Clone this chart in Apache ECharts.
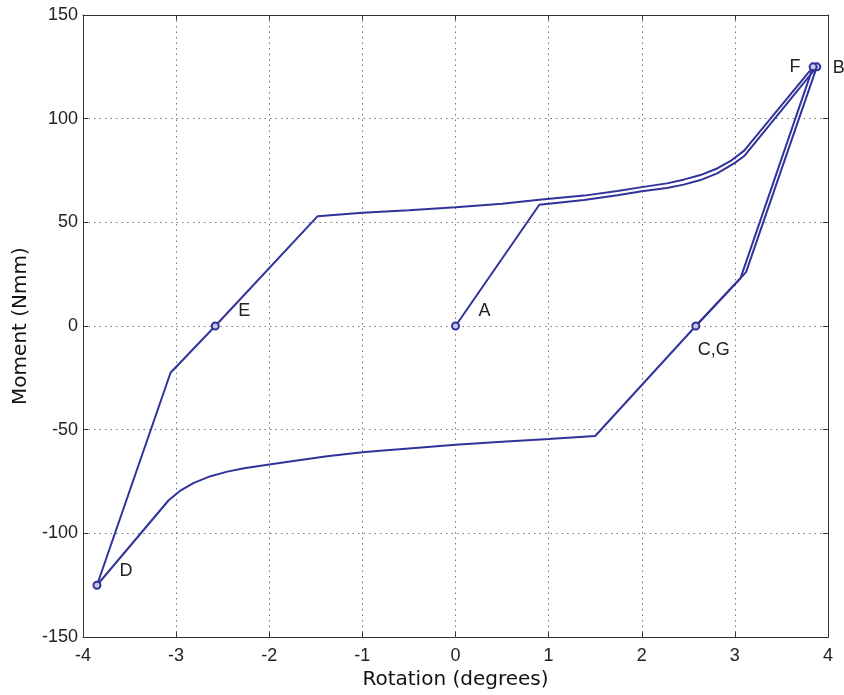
<!DOCTYPE html>
<html>
<head>
<meta charset="utf-8">
<script src="https://cdn.jsdelivr.net/npm/echarts@6/dist/echarts.min.js"></script>
<style>html,body{margin:0;padding:0;background:#fff;overflow:hidden;}#c{width:844px;height:695px;}</style>
</head>
<body>
<div id="c"></div>
<script>
// Loading path A -> B
var loadX = [0, 0.9, 1.38, 1.74, 2.0, 2.27, 2.45, 2.63, 2.81, 3.0, 3.1, 3.88];
var loadY = [0, 58.5, 60.8, 63.1, 65.0, 66.6, 68.2, 70.4, 73.6, 78.7, 82, 125];
// Unloading B -> C -> D
var unloadX = [3.88, 3.12, 2.58, 1.5, 1.0, 0.5, 0, -0.5, -0.81, -1.0, -1.38, -1.74, -2.0, -2.27, -2.45, -2.63, -2.81, -2.95, -3.08, -3.85];
var unloadY = [125, 26, 0, -53, -54.5, -55.8, -57.3, -59.0, -60.1, -60.9, -62.8, -65.1, -66.8, -68.6, -70.2, -72.4, -75.6, -79.2, -84, -125];
// Reloading D -> E -> F
var reloadX = [-3.85, -3.06, -2.58, -1.48, -1.0, -0.5, 0, 0.5, 0.9, 1.38, 1.74, 2.0, 2.27, 2.45, 2.63, 2.81, 2.95, 3.1, 3.84];
var reloadY = [-125, -22.5, 0, 53, 54.6, 55.8, 57.3, 59.0, 60.9, 62.9, 65.1, 67.0, 68.8, 70.6, 72.8, 76.0, 79.5, 84.6, 125];
// Unloading F -> G
var finalX = [3.84, 3.06, 2.58];
var finalY = [125, 23, 0];
// Marked points
var markNames = ['A', 'B', 'C,G', 'D', 'E', 'F'];
var markX = [0, 3.88, 2.58, -3.85, -2.58, 3.84];
var markY = [0, 125, 0, -125, 0, 125];
var labelOffsets = [[29, -15], [22, 1], [18, 24], [29, -14], [29, -15], [-18, 0]];
// Ticks
var xTicks = [-4, -3, -2, -1, 0, 1, 2, 3, 4];
var yTicks = [-150, -100, -50, 0, 50, 100, 150];

function pairs(xs, ys) { return xs.map(function (x, i) { return [x, ys[i]]; }); }

var lineColor = '#30339a';
var axisColor = '#333';
var gridLine = { show: true, lineStyle: { color: '#777', type: [1.5, 4], width: 1 } };

var chart = echarts.init(document.getElementById('c'), null, { renderer: 'canvas' });
function lineSeries(xs, ys) {
  return { type: 'line', data: pairs(xs, ys), symbol: 'none', smooth: false,
    lineStyle: { color: lineColor, width: 2 }, xAxisIndex: 0, yAxisIndex: 0, z: 3 };
}
function boxAxis(pos, ticks, step) {
  return {
    type: 'value', position: pos, min: ticks[0], max: ticks[ticks.length - 1], interval: step,
    axisLine: { show: true, onZero: false, lineStyle: { color: axisColor } },
    axisTick: { show: true, inside: true, length: 5, lineStyle: { color: axisColor } },
    axisLabel: { show: false }, splitLine: { show: false }
  };
}
chart.setOption({
  animation: false,
  backgroundColor: '#fff',
  grid: { left: 83, right: 16, top: 15, bottom: 53 },
  xAxis: [{
    type: 'value', position: 'bottom', min: xTicks[0], max: xTicks[xTicks.length - 1], interval: 1,
    name: 'Rotation (degrees)', nameLocation: 'middle', nameGap: 28,
    nameTextStyle: { fontFamily: 'DejaVu Sans', fontSize: 20, color: '#111' },
    axisLine: { show: true, onZero: false, lineStyle: { color: axisColor } },
    axisTick: { show: true, inside: true, length: 5, lineStyle: { color: axisColor } },
    axisLabel: { fontFamily: 'Liberation Sans', fontSize: 18, color: '#222', margin: 10 },
    splitLine: gridLine
  }, boxAxis('top', xTicks, 1)],
  yAxis: [{
    type: 'value', position: 'left', min: yTicks[0], max: yTicks[yTicks.length - 1], interval: 50,
    name: 'Moment (Nmm)', nameLocation: 'middle', nameGap: 46,
    nameTextStyle: { fontFamily: 'DejaVu Sans', fontSize: 20, color: '#111' },
    axisLine: { show: true, onZero: false, lineStyle: { color: axisColor } },
    axisTick: { show: true, inside: true, length: 5, lineStyle: { color: axisColor } },
    axisLabel: { fontFamily: 'Liberation Sans', fontSize: 18, color: '#222', margin: 5 },
    splitLine: gridLine
  }, boxAxis('right', yTicks, 50)],
  series: [
    lineSeries(loadX, loadY),
    lineSeries(unloadX, unloadY),
    lineSeries(reloadX, reloadY),
    lineSeries(finalX, finalY),
    {
      type: 'scatter', z: 5,
      symbol: 'circle', symbolSize: 7,
      itemStyle: { color: 'rgba(200,200,235,1)', borderColor: lineColor, borderWidth: 2, opacity: 1 },
      data: markNames.map(function (n, i) {
        return {
          value: [markX[i], markY[i]], name: n,
          label: { show: true, formatter: n, position: 'inside', offset: labelOffsets[i],
            align: 'center', verticalAlign: 'middle',
            fontFamily: 'Liberation Sans', fontSize: 18, color: '#222' }
        };
      })
    }
  ]
});
</script>
</body>
</html>
